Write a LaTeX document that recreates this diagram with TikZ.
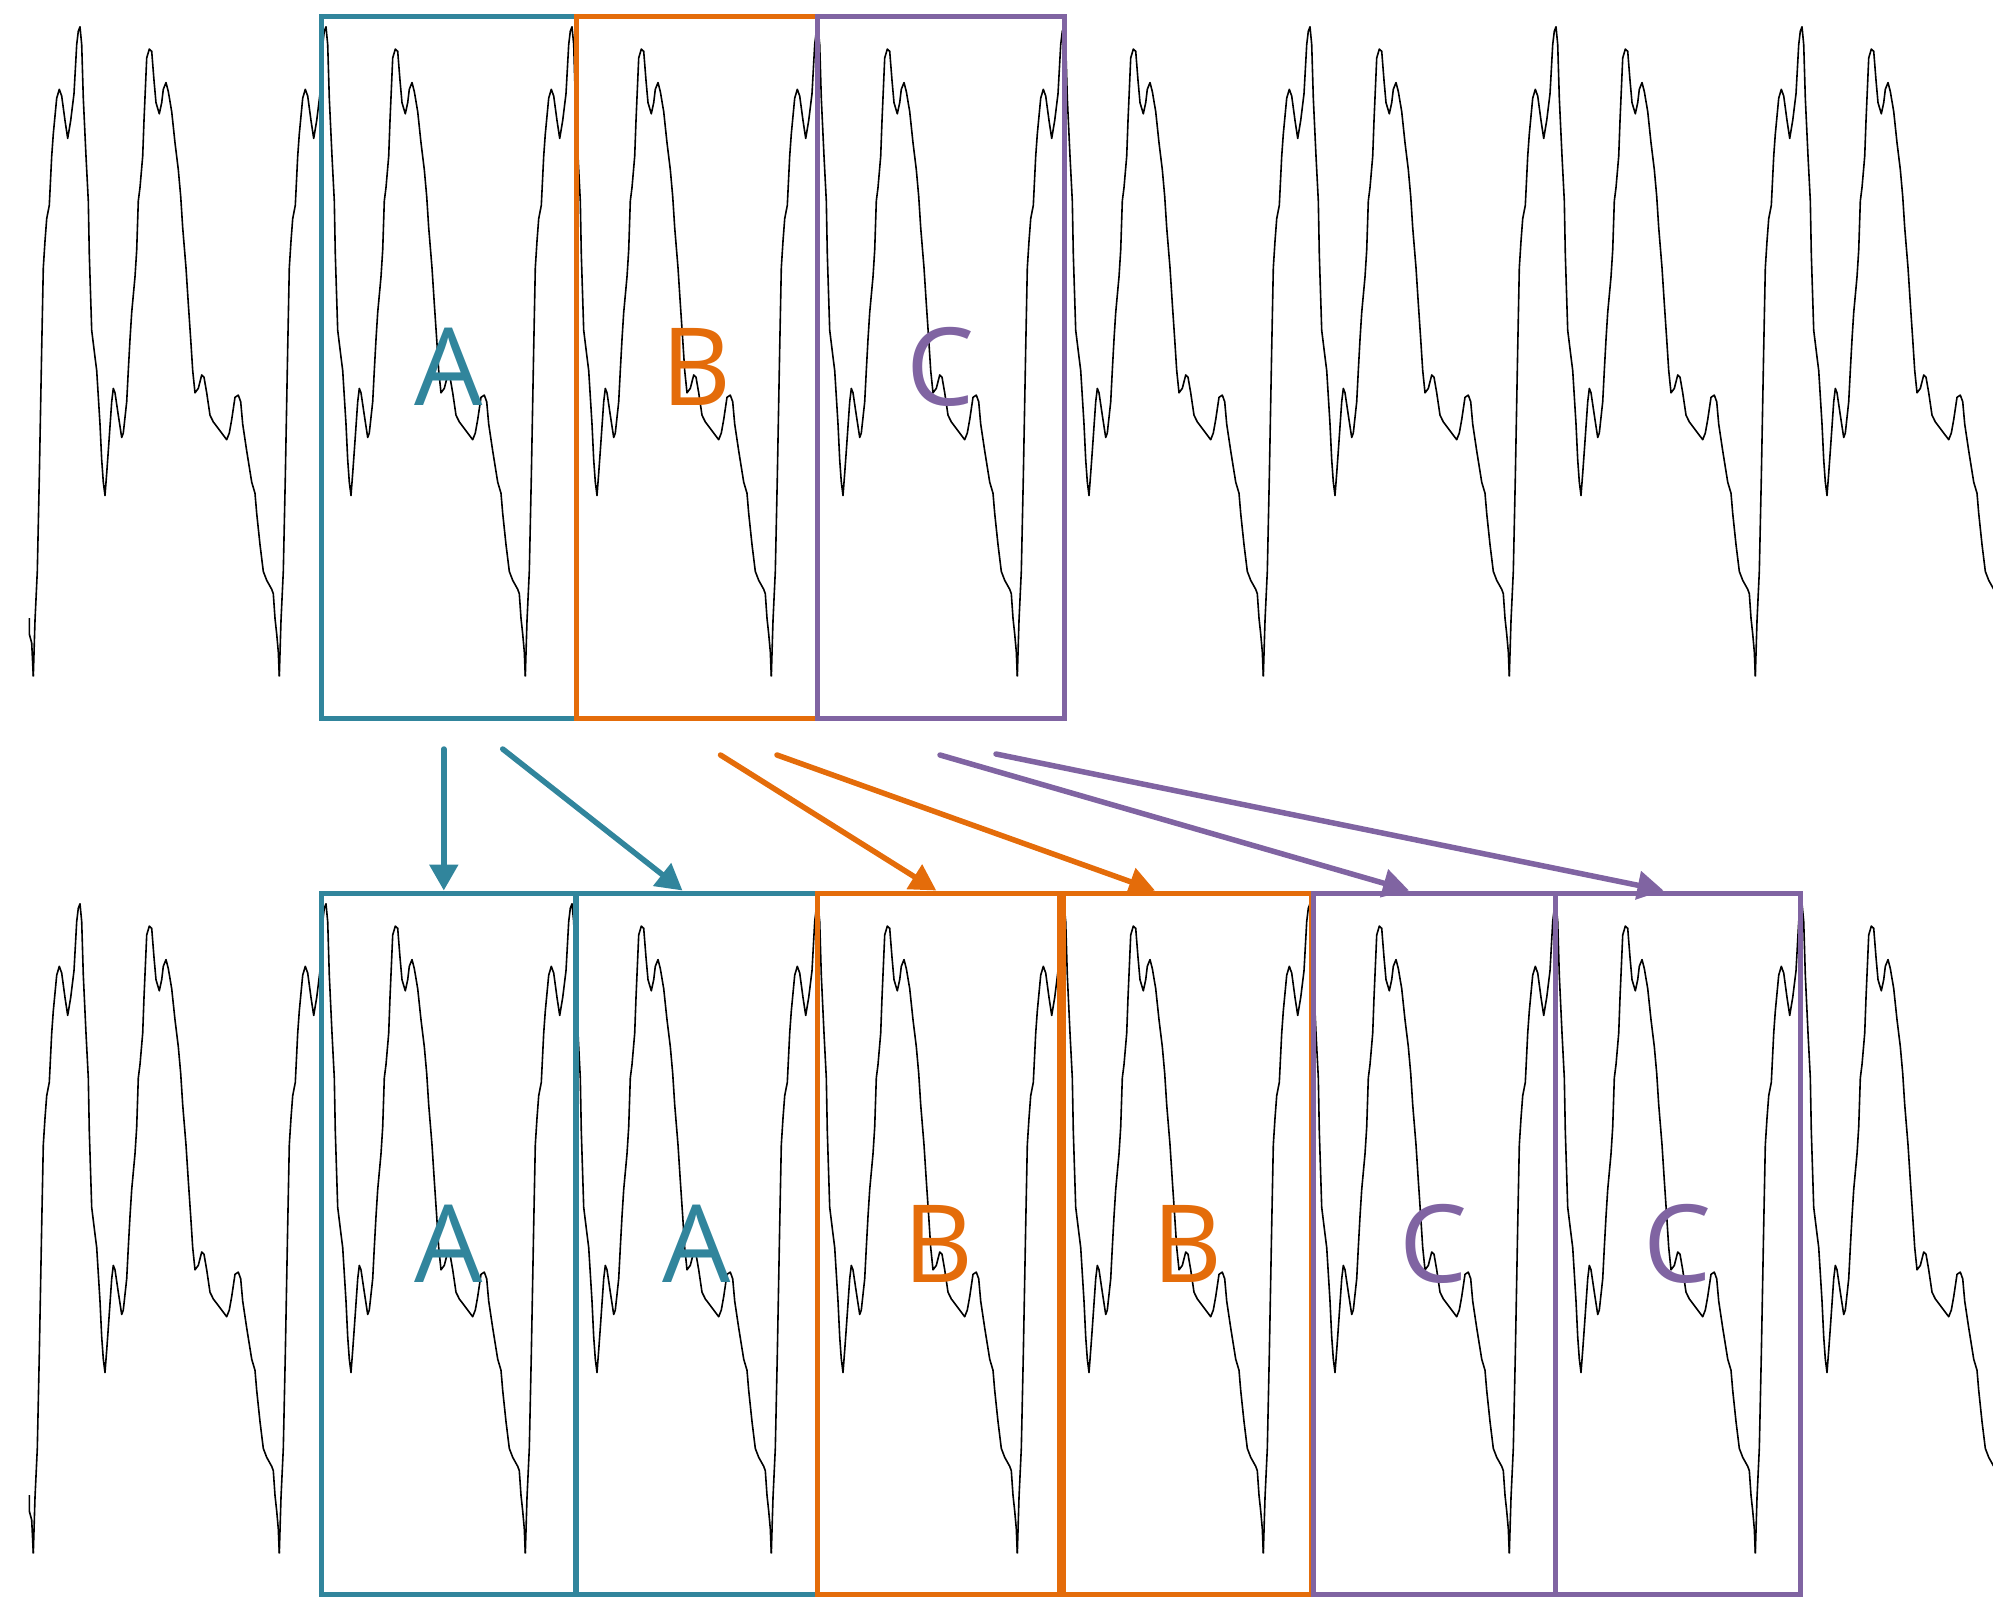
\documentclass[tikz,border=0pt]{standalone}
\usepackage{fontspec}
\setsansfont{Open Sans}
\usetikzlibrary{arrows.meta}
\definecolor{boxteal}{RGB}{49,133,156}
\definecolor{boxorange}{RGB}{228,108,10}
\definecolor{boxpurple}{RGB}{128,100,162}

\begin{document}
\begin{tikzpicture}[x=1pt,y=-1pt,
  wave/.style={black, line width=1.6pt, line join=round},
  seg/.style={draw=#1, text=#1, line width=5pt, inner sep=0pt,
    font=\sffamily\fontsize{108}{108}\selectfont},
  link/.style={draw=#1, line width=5.5pt, line cap=round,
    -{Triangle[length=26pt,width=28pt]}}]

\useasboundingbox (0,0) rectangle (1993,1598);

% periodic signal, repeated in both rows
\begin{scope}
\clip (0,0) rectangle (1993,1598);
\foreach \r in {0,877}{
  \draw[wave, shift={(0,\r)}] (29.3,618) -- (29.3,634) -- (31.7,643) -- (33.3,676.3);
  \foreach \k in {0,...,7}{
    \draw[wave, shift={(\k*246,\r)}]
      (33.3,676.3) -- (35,620.5) -- (37.3,571.4) -- (39.3,477.6) -- (41.7,348.2)
      -- (43.3,267.8) -- (45,241) -- (46.7,218.7) -- (49.3,205.3) -- (51.7,156.2)
      -- (53.3,133.9) -- (56.7,98.2) -- (59.3,89.3) -- (61.7,96) -- (65,120.5)
      -- (67.7,138.4) -- (70.7,120.5) -- (74,93.7) -- (76.7,44.6) -- (78.3,31.2)
      -- (80,26.8) -- (81.7,44.6) -- (83.3,98.2) -- (86,156.2) -- (88.3,200.9)
      -- (89.3,254.4) -- (91.7,330.3) -- (95,357.1) -- (96.7,370.5) -- (100,424.1)
      -- (101.7,459.8) -- (103.3,482.1) -- (105,495.5) -- (106.7,473.2) -- (108.3,450.9)
      -- (111.7,401.8) -- (113.3,388.4) -- (115,392.8) -- (118.3,415.2) -- (121.7,437.5)
      -- (123.3,433) -- (126.7,401.8) -- (128.3,370.5) -- (130,339.3) -- (131.7,312.5)
      -- (135,276.8) -- (136.7,250) -- (138.3,200.9) -- (140,187.5) -- (142.7,156.2)
      -- (144,120.5) -- (146.7,58) -- (149.3,49.1) -- (151.7,51.3) -- (154,80.4)
      -- (156,102.7) -- (159.3,113.8) -- (161.7,102.7) -- (163.3,89.3) -- (166,82.6)
      -- (168.3,91.5) -- (171.7,111.6) -- (175,142.8) -- (178.3,169.6) -- (180.7,196.4)
      -- (182.7,227.7) -- (186,267.8) -- (188.3,303.6) -- (190.7,339.3) -- (192.7,370.5)
      -- (195,392.8) -- (198.3,388.4) -- (201.7,375) -- (204,377.2) -- (206.7,392.8)
      -- (210,415.2) -- (213.3,421.9) -- (220,430.8) -- (226.7,439.7) -- (229.3,433)
      -- (231.7,419.6) -- (235,397.3) -- (238.3,395.1) -- (240.7,401.8) -- (242.7,424.1)
      -- (246.7,450.9) -- (251.7,482.1) -- (255,493.3) -- (256.7,513.4) -- (260,544.6)
      -- (263.3,571.4) -- (266.7,580.3) -- (271.7,589.3) -- (273.3,593.7) -- (275,618.3)
      -- (276.7,634) -- (278.3,651.8) -- (279.3,676.3);
  }
}
\end{scope}

% selected segments of the original signal
\node[seg=boxteal,   minimum width=255, minimum height=702] (tA) at (448.5,367) {A};
\node[seg=boxorange, minimum width=241, minimum height=702] (tB) at (696.5,367) {B};
\node[seg=boxpurple, minimum width=247, minimum height=702] (tC) at (940.5,367) {C};

% segments after duplication
\node[seg=boxteal,   minimum width=254, minimum height=701] (bA)  at (448.8,1243.5) {A};
\node[seg=boxteal,   minimum width=241, minimum height=701] (bA2) at (696.5,1243.5) {A};
\node[seg=boxorange, minimum width=241.5, minimum height=701] (bB)  at (938.3,1243.5) {B};
\node[seg=boxorange, minimum width=248, minimum height=701] (bB2) at (1187,1243.5) {B};
\node[seg=boxpurple, minimum width=242, minimum height=701] (bC)  at (1434,1243.5) {C};
\node[seg=boxpurple, minimum width=245, minimum height=701] (bC2) at (1677.5,1243.5) {C};

% arrow origins under the upper row
\coordinate (sA1) at (443.8,749);
\coordinate (sA2) at (502.7,749);
\coordinate (sB1) at (720.5,755);
\coordinate (sB2) at (777,755);
\coordinate (sC1) at (940,755);
\coordinate (sC2) at (996,754);

\draw[link=boxteal]   (sA1) -- ([xshift=-5pt]bA.north);
\draw[link=boxteal]   (sA2) -- ([xshift=-14pt]bA2.north);
\draw[link=boxorange] (sB1) -- ([xshift=-2pt]bB.north);
\draw[link=boxorange] (sB2) -- ([xshift=-32pt]bB2.north);
\draw[link=boxpurple] (sC1) -- ([xshift=-25pt]bC.north);
\draw[link=boxpurple] (sC2) -- ([xshift=-14pt]bC2.north);
\end{tikzpicture}
\end{document}
